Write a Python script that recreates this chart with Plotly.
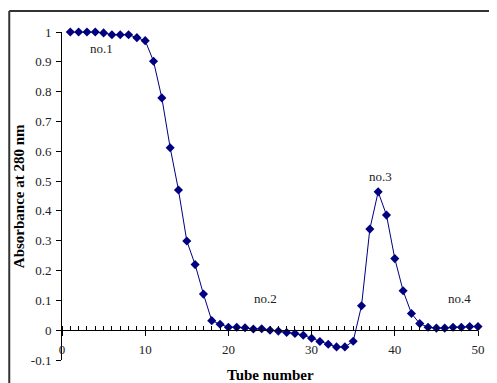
import plotly.graph_objects as go

tubes = list(range(1, 51))
absorbance = [1.0, 1.0, 1.0, 1.0, 0.997, 0.991, 0.991, 0.991, 0.981, 0.971,
              0.902, 0.779, 0.612, 0.47, 0.299, 0.22, 0.121, 0.032, 0.02, 0.01,
              0.01, 0.008, 0.004, 0.005, 0.0, -0.003, -0.008, -0.011, -0.017, -0.027,
              -0.038, -0.047, -0.056, -0.056, -0.037, 0.082, 0.339, 0.464, 0.386, 0.24,
              0.132, 0.056, 0.022, 0.01, 0.007, 0.007, 0.01, 0.01, 0.012, 0.012]

peak_labels = ["no.1", "no.2", "no.3", "no.4"]
peak_x = [4.7, 24.4, 38.3, 47.8]
peak_y = [0.945, 0.106, 0.514, 0.106]

x_ticks = [0, 10, 20, 30, 40, 50]
y_ticks = [-0.1, 0, 0.1, 0.2, 0.3, 0.4, 0.5, 0.6, 0.7, 0.8, 0.9, 1]
y_ticktext = ["-0.1", "0", "0.1", "0.2", "0.3", "0.4", "0.5", "0.6", "0.7", "0.8", "0.9", "1"]

FONT = "Liberation Serif"
NAVY = "#000080"

fig = go.Figure()
fig.add_trace(go.Scatter(
    x=tubes, y=absorbance, mode="lines+markers",
    line=dict(color=NAVY, width=1),
    marker=dict(symbol="diamond", size=7, color=NAVY),
    cliponaxis=False, showlegend=False,
))

for t, px_, py_ in zip(peak_labels, peak_x, peak_y):
    fig.add_annotation(x=px_, y=py_, text=t, showarrow=False,
                       font=dict(family=FONT, size=13, color="#222"))

fig.add_annotation(xref="paper", yref="paper", x=0.5, y=-0.0457, text="<b>Tube number</b>",
                   showarrow=False, yanchor="middle",
                   font=dict(family=FONT, size=15, color="black"))
fig.add_annotation(xref="paper", yref="paper", x=-0.103, y=0.5, text="<b>Absorbance at 280 nm</b>",
                   showarrow=False, textangle=-90, xanchor="center", yanchor="middle",
                   font=dict(family=FONT, size=15, color="black"))

# outer chart-area border (top and left)
fig.add_shape(type="line", xref="paper", yref="paper", x0=-0.1268, x1=1.04, y0=1.064, y1=1.064,
              line=dict(color="#333", width=2))
fig.add_shape(type="line", xref="paper", yref="paper", x0=-0.1268, x1=-0.1268, y0=1.064, y1=-0.08,
              line=dict(color="#333", width=2))

fig.update_layout(
    width=489, height=375,
    margin=dict(l=54, r=13, t=24, b=23),
    plot_bgcolor="white", paper_bgcolor="white",
    font=dict(family=FONT, size=13, color="#222"),
    xaxis=dict(range=[0, 50], tickvals=x_ticks, showgrid=False, zeroline=False,
               showline=True, linecolor="black", linewidth=1,
               ticks="outside", ticklen=5, tickcolor="black",
               minor=dict(dtick=1, ticks="inside", ticklen=4, tickcolor="black", showgrid=False),
               anchor="free", position=0.1 / 1.1, ticklabelstandoff=2),
    yaxis=dict(range=[-0.1, 1], tickvals=y_ticks, ticktext=y_ticktext, showgrid=False,
               zeroline=False, showline=True, linecolor="black", linewidth=1,
               ticks="outside", ticklen=5, tickcolor="black", ticklabelstandoff=2),
)

fig.write_html("out.html")
